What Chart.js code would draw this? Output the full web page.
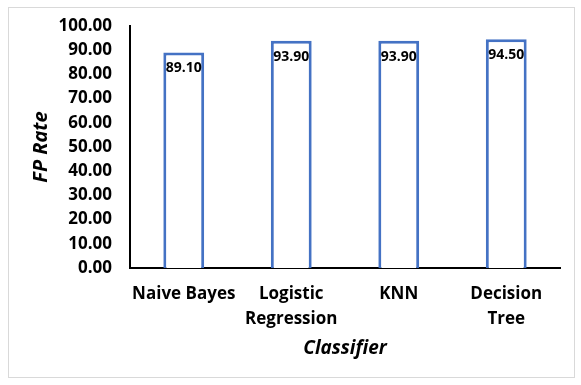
<!DOCTYPE html>
<html>
<head>
<meta charset="utf-8">
<script src="https://cdn.jsdelivr.net/npm/chart.js@4/dist/chart.umd.min.js"></script>
<style>
  body { margin: 0; background: #fff; }
  #box { position: absolute; left: 8px; top: 7px; width: 565px; height: 369px; border: 1px solid #d9d9d9; }
</style>
</head>
<body>
<div id="box"><canvas id="fpChart" width="565" height="369"></canvas></div>
<script>
// FP rate per classifier
const classifiers = [['Naive Bayes'], ['Logistic', 'Regression'], ['KNN'], ['Decision', 'Tree']];
const fpRate = [89.10, 93.90, 93.90, 94.50];
const yTicks = { min: 0, max: 100, step: 10 };

const FONT = '"Open Sans", Lato, sans-serif';

// value labels drawn just inside the top of each bar
const barLabels = {
  id: 'barLabels',
  afterDatasetsDraw(chart) {
    const ctx = chart.ctx;
    const meta = chart.getDatasetMeta(0);
    ctx.save();
    ctx.font = 'bold 14px ' + FONT;
    ctx.fillStyle = '#000';
    ctx.textAlign = 'center';
    ctx.textBaseline = 'middle';
    meta.data.forEach((bar, i) => {
      ctx.fillText(fpRate[i].toFixed(2), bar.x, bar.y + 16);
    });
    ctx.restore();
  }
};

new Chart(document.getElementById('fpChart').getContext('2d'), {
  type: 'bar',
  data: {
    labels: classifiers,
    datasets: [{
      data: fpRate,
      backgroundColor: '#ffffff',
      borderColor: '#4472c4',
      borderWidth: 3,
      barPercentage: 0.38,
      categoryPercentage: 1
    }]
  },
  options: {
    responsive: false,
    animation: false,
    layout: { padding: { top: 18, right: 14, left: 0, bottom: 0 } },
    plugins: { legend: { display: false }, tooltip: { enabled: false } },
    scales: {
      x: {
        grid: { display: false, drawTicks: false },
        border: { color: '#000', width: 2 },
        ticks: { color: '#000', padding: 14, maxRotation: 0, minRotation: 0, autoSkip: false,
                 font: { family: FONT, size: 17, weight: 'bold', lineHeight: 1.47 } },
        title: { display: true, text: 'Classifier', color: '#000', padding: { top: 0, bottom: 17 },
                 font: { family: FONT, size: 19, weight: 'bold', style: 'italic' } },
        afterFit(s) { s.height = 109; }
      },
      y: {
        min: yTicks.min, max: yTicks.max,
        grid: { display: false, drawTicks: false },
        border: { color: '#000', width: 2 },
        ticks: { stepSize: yTicks.step, color: '#000', padding: 18,
                 font: { family: FONT, size: 17, weight: 'bold' },
                 callback: v => v.toFixed(2) },
        title: { display: true, text: 'FP Rate', color: '#000', padding: { top: 20, bottom: 0 },
                 font: { family: FONT, size: 20, weight: 'bold', style: 'italic' } },
        afterFit(s) { s.width = 121; s.paddingTop = 10; s.paddingBottom = 10; }
      }
    }
  },
  plugins: [barLabels]
});
</script>
</body>
</html>
